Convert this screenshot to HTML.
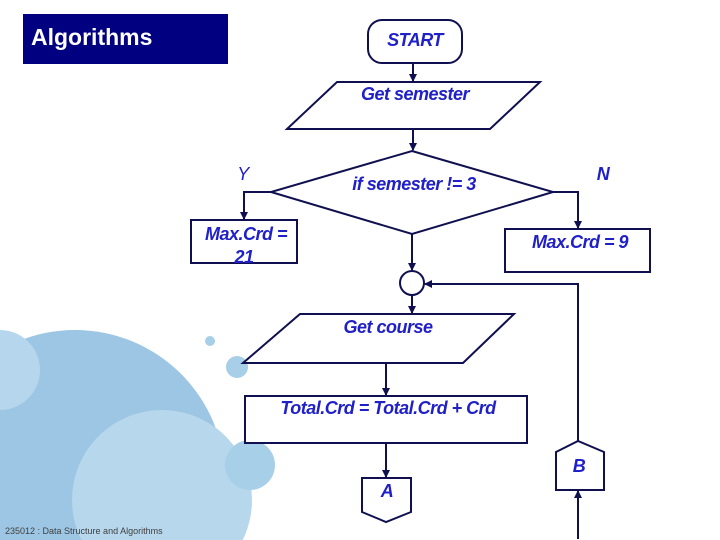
<!DOCTYPE html>
<html><head><style>
html,body{margin:0;padding:0;width:720px;height:540px;overflow:hidden;background:#fff}
body{position:relative;font-family:"Liberation Sans",sans-serif}
svg{position:absolute;left:0;top:0;display:block;width:720px;height:540px}
</style></head><body>
<svg width="720" height="540" viewBox="0 0 720 540">
<defs><marker id="a" markerWidth="8" markerHeight="8" refX="7" refY="4" orient="auto" markerUnits="userSpaceOnUse"><path d="M0,0 L8,4 L0,8 z" fill="#101050"/></marker></defs>
<g>
<circle cx="75" cy="480" r="150" fill="#9cc6e3"/>
<circle cx="0" cy="370" r="40" fill="#b5d6ec"/>
<circle cx="162" cy="500" r="90" fill="#b6d7ec"/>
<circle cx="250" cy="465" r="25" fill="#a8cfe8"/>
<circle cx="210" cy="341" r="5" fill="#a8cfe8"/>
<circle cx="237" cy="367" r="11" fill="#a8cfe8"/>
</g>
<rect x="23" y="14" width="205" height="50" fill="#000080"/>
<text x="31" y="45" fill="#fff" font-size="23" font-weight="bold">Algorithms</text>
<g fill="none" stroke="#101050" stroke-width="2">
<rect x="368" y="20" width="94" height="43" rx="14" fill="#fff"/>
<polygon points="337,82 540,82 490,129 287,129" fill="#fff"/>
<polygon points="412,151 553,192 412,234 271,192" fill="#fff"/>
<rect x="191" y="220" width="106" height="43" fill="#fff"/>
<rect x="505" y="229" width="145" height="43" fill="#fff"/>
<circle cx="412" cy="283" r="12" fill="#fff"/>
<polygon points="300,314 514,314 463,363 243,363" fill="#fff"/>
<rect x="245" y="396" width="282" height="47" fill="#fff"/>
<polygon points="362,478 411,478 411,512 386,522 362,512" fill="#fff"/>
<polygon points="556,452 578,441 604,452 604,490 556,490" fill="#fff"/>
<line x1="413" y1="63" x2="413" y2="81" marker-end="url(#a)"/>
<line x1="413" y1="130" x2="413" y2="150" marker-end="url(#a)"/>
<polyline points="271,192 244,192 244,219" marker-end="url(#a)"/>
<polyline points="553,192 578,192 578,228" marker-end="url(#a)"/>
<line x1="412" y1="234" x2="412" y2="270" marker-end="url(#a)"/>
<polyline points="578,441 578,284 425,284" marker-end="url(#a)"/>
<line x1="412" y1="295" x2="412" y2="313" marker-end="url(#a)"/>
<line x1="386" y1="363" x2="386" y2="395" marker-end="url(#a)"/>
<line x1="386" y1="443" x2="386" y2="477" marker-end="url(#a)"/>
<line x1="578" y1="539" x2="578" y2="491" marker-end="url(#a)"/>
</g>
<g fill="#2020c8" font-size="18" font-style="italic" font-weight="bold" text-anchor="middle" letter-spacing="-0.5">
<text x="415" y="46">START</text>
<text x="415" y="100">Get semester</text>
<text x="414" y="190">if semester != 3</text>
<text x="243" y="180" font-weight="normal">Y</text>
<text x="603" y="180">N</text>
<text x="246" y="240">Max.Crd =</text>
<text x="244" y="263">21</text>
<text x="580" y="248">Max.Crd = 9</text>
<text x="388" y="333">Get course</text>
<text x="388" y="414">Total.Crd = Total.Crd + Crd</text>
<text x="387" y="497">A</text>
<text x="579" y="472">B</text>
</g>
<text x="5" y="534" fill="#404040" font-size="9">235012 : Data Structure and Algorithms</text>
</svg>
</body></html>
